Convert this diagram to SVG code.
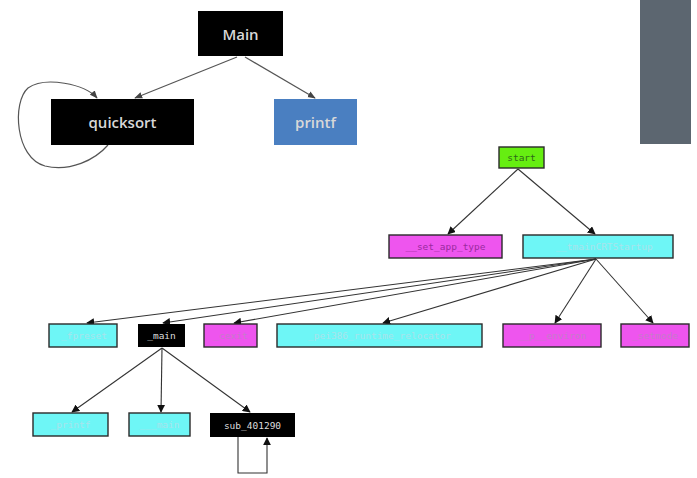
<svg xmlns="http://www.w3.org/2000/svg" width="697" height="478" viewBox="0 0 697 478">
  <style>
    .slide { font-family: "Open Sans", "Liberation Sans", sans-serif; font-size: 15px; font-weight: 600; fill: #d8d8d8; text-anchor: middle; dominant-baseline: central; }
    .mono { font-family: "DejaVu Sans Mono", "Liberation Mono", monospace; font-size: 9.5px; text-anchor: middle; dominant-baseline: central; }
    .topedge { stroke: #555; stroke-width: 1.2; fill: none; }
    .edge { stroke: #333; stroke-width: 1.1; fill: none; }
    .box { stroke: #2a2a2a; stroke-width: 1.4; }
    .local { fill: #6ef6f6; }
    .lib { fill: #ee55ee; }
  </style>
  <defs>
    <marker id="arr" viewBox="0 0 10 10" refX="9" refY="5" markerWidth="8" markerHeight="8" orient="auto-start-reverse" markerUnits="userSpaceOnUse">
      <path d="M0,0 L10,5 L0,10 z" fill="#111"/>
    </marker>
    <marker id="arrTop" viewBox="0 0 10 10" refX="9" refY="5" markerWidth="8" markerHeight="8" orient="auto-start-reverse" markerUnits="userSpaceOnUse">
      <path d="M0,1 L10,5 L0,9 z" fill="#444"/>
    </marker>
  </defs>

  <!-- side panel -->
  <rect x="640" y="0" width="51" height="144" fill="#5c6670"/>

  <!-- connectors -->
  <g id="connectors">
    <line class="topedge" x1="237" y1="57" x2="135" y2="98" marker-end="url(#arrTop)"/>
    <line class="topedge" x1="245" y1="57" x2="315" y2="98" marker-end="url(#arrTop)"/>
    <path class="topedge" d="M108,145 C95,160 70,172 45,166 C15,158 12,102 28,88 C45,76 85,84 97,98" marker-end="url(#arrTop)"/>

    <line class="edge" x1="518" y1="169" x2="448" y2="234" marker-end="url(#arr)"/>
    <line class="edge" x1="518" y1="169" x2="595" y2="234" marker-end="url(#arr)"/>

    <line class="edge" x1="596" y1="259" x2="87" y2="323" marker-end="url(#arr)"/>
    <line class="edge" x1="596" y1="259" x2="163" y2="323" marker-end="url(#arr)"/>
    <line class="edge" x1="596" y1="259" x2="234" y2="323" marker-end="url(#arr)"/>
    <line class="edge" x1="596" y1="259" x2="383" y2="323" marker-end="url(#arr)"/>
    <line class="edge" x1="596" y1="259" x2="555" y2="323" marker-end="url(#arr)"/>
    <line class="edge" x1="596" y1="259" x2="653" y2="323" marker-end="url(#arr)"/>

    <line class="edge" x1="162" y1="348" x2="72" y2="412" marker-end="url(#arr)"/>
    <line class="edge" x1="162" y1="348" x2="161" y2="412" marker-end="url(#arr)"/>
    <line class="edge" x1="162" y1="348" x2="250" y2="412" marker-end="url(#arr)"/>
    <path class="edge" d="M238,437 L238,473 L267,473 L267,438" marker-end="url(#arr)"/>
  </g>

  <!-- upper call graph -->
  <g id="node-main">
    <rect x="198" y="11" width="85" height="45" fill="#000"/>
    <text class="slide" x="240.5" y="34">Main</text>
  </g>
  <g id="node-quicksort">
    <rect x="51" y="99" width="143" height="46" fill="#000"/>
    <text class="slide" x="122.5" y="122">quicksort</text>
  </g>
  <g id="node-printf">
    <rect x="274" y="99" width="83" height="46" fill="#4a7fc1"/>
    <text class="slide" x="315.5" y="122">printf</text>
  </g>

  <!-- lower call graph -->
  <g id="node-start">
    <rect class="box" x="499" y="147" width="45" height="21" fill="#66ee11"/>
    <text class="mono" x="521.5" y="157.5" fill="#2f6a1a">start</text>
  </g>
  <g id="node-set-app-type">
    <rect class="box lib" x="389" y="235" width="113" height="23"/>
    <text class="mono" x="445.5" y="246.5" fill="#9a2aa0">__set_app_type</text>
  </g>
  <g id="node-tmaincrtstartup">
    <rect class="box local" x="523" y="235" width="150" height="23"/>
    <text class="mono" x="604" y="246.5" fill="#a8e4ec">__tmainCRTStartup</text>
  </g>

  <g id="node-fpreset">
    <rect class="box local" x="49" y="324" width="68" height="23"/>
    <text class="mono" x="84" y="335.5" fill="#a8e4ec">_fpreset</text>
  </g>
  <g id="node-main2">
    <rect x="138" y="324" width="47" height="23" fill="#000"/>
    <text class="mono" x="161.5" y="335.5" fill="#dddddd">_main</text>
  </g>
  <g id="node-cexit">
    <rect class="box lib" x="204" y="324" width="53" height="23"/>
    <text class="mono" x="230.5" y="335.5" fill="#c77acb">_cexit</text>
  </g>
  <g id="node-relocator">
    <rect class="box local" x="277" y="324" width="205" height="23"/>
    <text class="mono" x="379.5" y="335.5" fill="#a8e4ec">_pei386_runtime_relocator</text>
  </g>
  <g id="node-p-environ">
    <rect class="box lib" x="503" y="324" width="98" height="23"/>
    <text class="mono" x="552" y="335.5" fill="#c77acb">__p__environ</text>
  </g>
  <g id="node-setmode">
    <rect class="box lib" x="621" y="324" width="68" height="23"/>
    <text class="mono" x="655" y="335.5" fill="#c77acb">_setmode</text>
  </g>

  <g id="node-printf2">
    <rect class="box local" x="33" y="413" width="75" height="23"/>
    <text class="mono" x="70.5" y="424.5" fill="#a8e4ec">_printf</text>
  </g>
  <g id="node-main3">
    <rect class="box local" x="129" y="413" width="61" height="23"/>
    <text class="mono" x="159.5" y="424.5" fill="#a8e4ec">___main</text>
  </g>
  <g id="node-sub-401290">
    <rect x="210" y="413" width="85" height="24" fill="#000"/>
    <text class="mono" x="252.5" y="425" fill="#dddddd">sub_401290</text>
  </g>
</svg>
